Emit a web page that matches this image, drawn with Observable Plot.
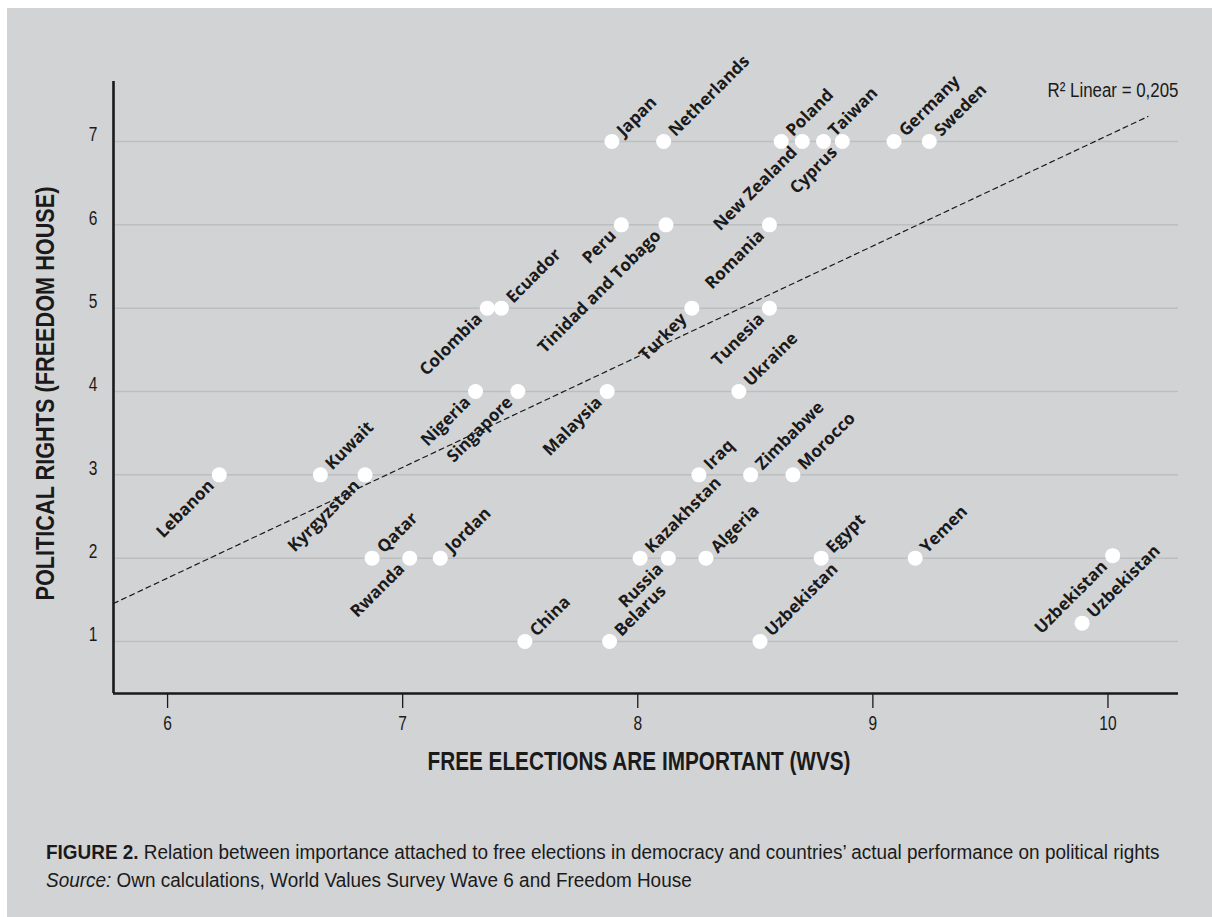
<!DOCTYPE html>
<html>
<head>
<meta charset="utf-8">
<script src="https://cdn.jsdelivr.net/npm/d3@7"></script>
<script src="https://cdn.jsdelivr.net/npm/@observablehq/plot@0.6"></script>
<style>
  html, body { margin: 0; padding: 0; background: #ffffff; }
  #panel {
    position: absolute; left: 7px; top: 8px; width: 1205px; height: 909px;
    background: #d2d3d5; overflow: hidden;
  }
  #chart { position: absolute; left: 0; top: 0; }
  #caption {
    position: absolute; left: 39px; top: 830px; width: 1600px;
    font-family: 'Liberation Sans', Arial, sans-serif;
    font-size: 20px; line-height: 28px; color: #1a1a1a;
  }
  #caption .line { display: inline-block; white-space: nowrap; transform-origin: 0 50%; }
  #caption b { font-weight: 700; }
</style>
</head>
<body>
<div id="panel">
  <div id="chart"></div>
  <div id="caption">
    <span class="line" id="cap1"><b>FIGURE 2.</b> Relation between importance attached to free elections in democracy and countries’ actual performance on political rights</span><br>
    <span class="line" id="cap2"><i>Source:</i> Own calculations, World Values Survey Wave 6 and Freedom House</span>
  </div>
</div>
<script>
// ---- data ----
const countries = [
  "Lebanon", "Kuwait", "Kyrgyzstan", "Qatar", "Rwanda", "Jordan",
  "Nigeria", "Singapore", "Colombia", "Ecuador", "China", "Malaysia",
  "Peru", "Tinidad and Tobago", "Japan", "Netherlands", "Turkey", "Romania",
  "Poland", "New Zealand", "Taiwan", "Cyprus", "Germany", "Sweden",
  "Tunesia", "Ukraine", "Iraq", "Zimbabwe", "Morocco", "Kazakhstan",
  "Russia", "Algeria", "Egypt", "Yemen", "Belarus", "Uzbekistan",
  "Uzbekistan", "Uzbekistan"
];
const freeElections = [
  6.22, 6.65, 6.84, 6.87, 7.03, 7.16,
  7.31, 7.49, 7.36, 7.42, 7.52, 7.87,
  7.93, 8.12, 7.89, 8.11, 8.23, 8.56,
  8.61, 8.70, 8.79, 8.87, 9.09, 9.24,
  8.56, 8.43, 8.26, 8.48, 8.66, 8.01,
  8.13, 8.29, 8.78, 9.18, 7.88, 8.52,
  10.02, 9.89
];
const politicalRights = [
  3, 3, 3, 2, 2, 2,
  4, 4, 5, 5, 1, 4,
  6, 6, 7, 7, 5, 6,
  7, 7, 7, 7, 7, 7,
  5, 4, 3, 3, 3, 2,
  2, 2, 2, 2, 1, 1,
  2.03, 1.22
];
const labelSide = [
  "left", "right", "left", "right", "left", "right",
  "left", "left", "left", "right", "right", "left",
  "left", "left", "right", "right", "left", "left",
  "right", "left", "right", "left", "right", "right",
  "left", "right", "right", "right", "right", "right",
  "left", "right", "right", "right", "right", "right",
  "left", "right"
];
const xTicks = [6, 7, 8, 9, 10];
const yTicks = [1, 2, 3, 4, 5, 6, 7];
const xDomain = [5.77, 10.30];
const yDomain = [0.376, 7.72];
const fitX = [5.77, 10.17];
const fitY = [1.456, 7.30];
const fitLabel = "R² Linear = 0,205";
const xTitle = "FREE ELECTIONS ARE IMPORTANT (WVS)";
const yTitle = "POLITICAL RIGHTS (FREEDOM HOUSE)";

// ---- tables built from the arrays ----
const points = countries.map((c, i) => ({
  country: c, x: freeElections[i], y: politicalRights[i], side: labelSide[i]
}));
const fit = fitX.map((x, i) => ({x, y: fitY[i]}));

const condensed = "'Liberation Sans', Arial, sans-serif";
const labelFont = "'Open Sans', 'Noto Sans', sans-serif";
const ink = "#1a1a1a";

const chart = Plot.plot({
  width: 1205,
  height: 800,
  marginTop: 73,
  marginBottom: 115,
  marginLeft: 106,
  marginRight: 34,
  style: {background: "transparent", overflow: "visible", color: ink},
  x: {domain: xDomain},
  y: {domain: yDomain},
  marks: [
    Plot.gridY(yTicks, {stroke: "#bdbec0", strokeOpacity: 1, strokeWidth: 1.5}),
    Plot.axisY(yTicks, {tickSize: 0, tickPadding: 16, dy: -7, fontSize: 21, fontFamily: condensed, label: null, fill: ink, tickFormat: d => String(d)}),
    Plot.axisX(xTicks, {tickSize: 15, tickPadding: 7, fontSize: 21, fontFamily: condensed, label: null, stroke: ink, strokeWidth: 1.3, fill: ink, tickFormat: d => String(d)}),
    Plot.ruleX([xDomain[0]], {stroke: ink, strokeWidth: 2.6}),
    Plot.ruleY([yDomain[0]], {stroke: ink, strokeWidth: 2.6}),
    Plot.line(fit, {x: "x", y: "y", stroke: ink, strokeWidth: 1.2, strokeDasharray: "5,4"}),
    Plot.dot(points, {x: "x", y: "y", r: 7.5, fill: "white", stroke: null}),
    Plot.text(points.filter(d => d.side === "right"), {
      x: "x", y: "y", text: "country", rotate: -45, textAnchor: "start", lineAnchor: "middle",
      dx: 8, dy: -8, fontSize: 17, fontWeight: 700, fontFamily: labelFont, fill: ink
    }),
    Plot.text(points.filter(d => d.side === "left"), {
      x: "x", y: "y", text: "country", rotate: -45, textAnchor: "end", lineAnchor: "middle",
      dx: -8, dy: 8, fontSize: 17, fontWeight: 700, fontFamily: labelFont, fill: ink
    }),
    Plot.text([fitLabel], {frameAnchor: "top-right", textAnchor: "end", lineAnchor: "middle", dy: 9, fontSize: 20, fontFamily: condensed, fill: ink}),
    Plot.text([xTitle], {frameAnchor: "bottom", textAnchor: "middle", lineAnchor: "middle", dy: 68, dx: -7, fontSize: 26, fontWeight: 700, fontFamily: condensed, fill: ink}),
    Plot.text([yTitle], {frameAnchor: "left", textAnchor: "middle", rotate: -90, lineAnchor: "middle", dx: -68, dy: 6, fontSize: 26, fontWeight: 700, fontFamily: condensed, fill: ink})
  ]
});
document.getElementById("chart").appendChild(chart);

// ---- condensed look: squeeze the narrow-font texts horizontally ----
const svg = d3.select(chart);
svg.selectAll("text").each(function () {
  const t = this.textContent;
  const fam = (this.closest("[font-family]") || this).getAttribute("font-family") || "";
  if (!fam.includes("Liberation")) return;
  if (t === xTitle) { this.setAttribute("textLength", 423); this.setAttribute("lengthAdjust", "spacingAndGlyphs"); return; }
  if (t === yTitle) { this.setAttribute("textLength", 414); this.setAttribute("lengthAdjust", "spacingAndGlyphs"); return; }
  if (t === fitLabel) { this.setAttribute("textLength", 131); this.setAttribute("lengthAdjust", "spacingAndGlyphs"); return; }
  // tick labels
  this.setAttribute("font-size", 21);
  const tr = this.getAttribute("transform") || "";
  this.setAttribute("transform", tr + " scale(0.74,1)");
});

// caption squeeze to the reference line length
const cap1 = document.getElementById("cap1"), cap2 = document.getElementById("cap2");
const s = 1114 / cap1.offsetWidth;
cap1.style.transform = `scaleX(${s})`;
cap2.style.transform = `scaleX(${s})`;
</script>
</body>
</html>
